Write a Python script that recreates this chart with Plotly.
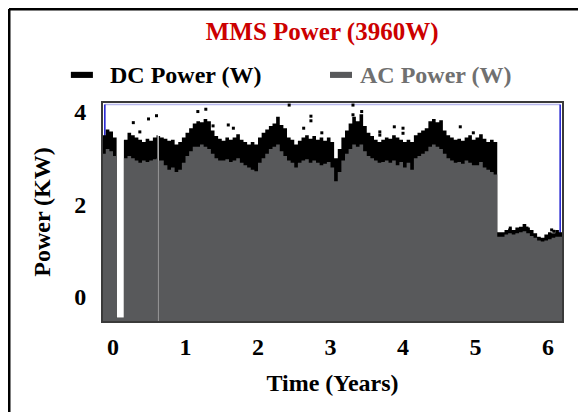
import plotly.graph_objects as go

# ---- data ----
TIME = [
    -0.15, -0.10, -0.05, 0.00, 0.05, 0.10, 0.15, 0.20, 0.25, 0.30,
    0.35, 0.40, 0.45, 0.50, 0.55, 0.60, 0.615, 0.63, 0.65, 0.70,
    0.75, 0.80, 0.85, 0.90, 0.95, 1.00, 1.05, 1.10, 1.15, 1.20,
    1.25, 1.30, 1.35, 1.40, 1.45, 1.50, 1.55, 1.60, 1.65, 1.70,
    1.75, 1.80, 1.85, 1.90, 1.95, 2.00, 2.05, 2.10, 2.15, 2.20,
    2.25, 2.30, 2.35, 2.40, 2.45, 2.50, 2.55, 2.60, 2.65, 2.70,
    2.75, 2.80, 2.85, 2.90, 2.95, 3.00, 3.05, 3.10, 3.15, 3.20,
    3.25, 3.30, 3.35, 3.40, 3.45, 3.50, 3.55, 3.60, 3.65, 3.70,
    3.75, 3.80, 3.85, 3.90, 3.95, 4.00, 4.05, 4.10, 4.15, 4.20,
    4.25, 4.30, 4.35, 4.40, 4.45, 4.50, 4.55, 4.60, 4.65, 4.70,
    4.75, 4.80, 4.85, 4.90, 4.95, 5.00, 5.05, 5.10, 5.15, 5.20,
    5.25, 5.30, 5.35, 5.40, 5.45, 5.50, 5.55, 5.60, 5.65, 5.70,
    5.75, 5.80, 5.85, 5.90, 5.95, 6.00, 6.05, 6.10, 6.15, 6.20,
]

DC_POWER = [
    3.50, 3.62, 3.58, 3.45, -0.45, -0.45, 3.40, 3.55, 3.50, 3.45,
    3.40, 3.35, 3.42, 3.38, 3.45, 3.50, -0.60, 3.48, 3.45, 3.42,
    3.38, 3.40, 3.30, 3.35, 3.45, 3.55, 3.65, 3.75, 3.80, 3.78,
    3.85, 3.80, 3.60, 3.48, 3.42, 3.38, 3.45, 3.40, 3.45, 3.52,
    3.40, 3.35, 3.30, 3.35, 3.30, 3.45, 3.55, 3.62, 3.70, 3.75,
    3.90, 3.72, 3.65, 3.45, 3.40, 3.30, 3.38, 3.45, 3.50, 3.42,
    3.48, 3.40, 3.45, 3.38, 3.45, 3.35, 3.00, 3.20, 3.45, 3.60,
    3.75, 3.90, 3.80, 3.95, 3.70, 3.55, 3.48, 3.40, 3.35, 3.40,
    3.45, 3.42, 3.50, 3.45, 3.40, 3.35, 3.40, 3.35, 3.50, 3.55,
    3.60, 3.65, 3.80, 3.85, 3.78, 3.82, 3.60, 3.50, 3.45, 3.40,
    3.42, 3.38, 3.45, 3.50, 3.40, 3.45, 3.52, 3.42, 3.35, 3.40,
    3.35, 1.40, 1.40, 1.45, 1.48, 1.45, 1.50, 1.52, 1.58, 1.50,
    1.45, 1.38, 1.30, 1.28, 1.35, 1.40, 1.38, 1.45, 1.40, 1.40,
]

AC_POWER = [
    3.10, 3.20, 3.15, 3.05, -0.45, -0.45, 3.00, 3.05, 3.00, 2.95,
    2.90, 2.95, 2.92, 2.95, 2.98, 3.00, -0.60, 2.95, 2.95, 2.85,
    2.75, 2.80, 2.70, 2.75, 2.90, 3.05, 3.15, 3.25, 3.25, 3.30,
    3.25, 3.20, 3.10, 3.00, 2.95, 2.95, 2.98, 2.92, 2.95, 3.00,
    2.90, 2.85, 2.80, 2.75, 2.72, 2.90, 3.00, 3.10, 3.20, 3.25,
    3.30, 3.15, 3.05, 2.95, 2.90, 2.80, 2.90, 2.95, 2.98, 2.90,
    2.95, 2.90, 2.85, 2.88, 2.92, 2.80, 2.50, 2.70, 2.95, 3.10,
    3.20, 3.30, 3.25, 3.30, 3.15, 3.05, 3.00, 2.95, 2.90, 2.92,
    2.95, 2.90, 2.95, 2.85, 2.92, 2.80, 2.90, 2.75, 3.00, 3.05,
    3.10, 3.15, 3.25, 3.30, 3.25, 3.20, 3.10, 3.00, 2.95, 2.90,
    2.92, 2.88, 2.95, 2.90, 2.85, 2.85, 2.92, 2.80, 2.75, 2.70,
    2.65, 1.30, 1.30, 1.35, 1.38, 1.35, 1.38, 1.40, 1.42, 1.38,
    1.32, 1.28, 1.22, 1.20, 1.22, 1.25, 1.28, 1.30, 1.30, 1.30,
]

# isolated DC readings above the main band
DC_DOT_TIME = [0.28, 0.37, 0.49, 0.60, 1.17, 1.28, 1.38, 1.59, 1.66, 2.43,
               2.63, 2.73, 2.73, 2.88, 3.31, 3.31, 3.43, 3.68, 3.68, 3.88,
               4.00, 4.00, 4.79, 4.97, 5.48, 5.71, 6.05, 6.08]
DC_DOT_POWER = [3.77, 3.57, 3.85, 3.92, 4.01, 4.06, 3.70, 3.72, 3.65, 4.15,
                3.65, 3.91, 3.81, 3.55, 4.15, 3.94, 4.01, 3.57, 3.50, 3.68,
                3.65, 3.54, 3.68, 3.55, 1.49, 1.49, 1.45, 1.42]

X_TICKS = [0, 1, 2, 3, 4, 5, 6]
X_TICK_TEXT = ["0", "1", "2", "3", "4", "5", "6"]
Y_TICKS = [0, 2, 4]
Y_TICK_TEXT = ["0", "2", "4"]

TITLE = "MMS Power (3960W)"
SERIES_NAMES = ["DC Power (W)", "AC Power (W)"]
X_TITLE = "Time (Years)"
Y_TITLE = "Power (KW)"

FLOOR = -0.6  # fill floor, below the visible axis range
DC_COLOR = "#000000"
AC_COLOR = "#58595b"
AC_TEXT_COLOR = "#707070"
FONT = "Liberation Serif"

fig = go.Figure()
floor = [FLOOR] * len(TIME)

fig.add_trace(go.Scatter(x=TIME, y=floor, mode="lines", line=dict(width=0, shape="hv"),
                         showlegend=False, hoverinfo="skip"))
fig.add_trace(go.Scatter(x=TIME, y=DC_POWER, name=SERIES_NAMES[0], mode="lines",
                         line=dict(width=0, shape="hv", color=DC_COLOR),
                         fill="tonexty", fillcolor=DC_COLOR, showlegend=False))
fig.add_trace(go.Scatter(x=TIME, y=floor, mode="lines", line=dict(width=0, shape="hv"),
                         showlegend=False, hoverinfo="skip"))
fig.add_trace(go.Scatter(x=TIME, y=AC_POWER, name=SERIES_NAMES[1], mode="lines",
                         line=dict(width=0, shape="hv", color=AC_COLOR),
                         fill="tonexty", fillcolor=AC_COLOR, showlegend=False))
fig.add_trace(go.Scatter(x=DC_DOT_TIME, y=DC_DOT_POWER, name=SERIES_NAMES[0], mode="markers",
                         marker=dict(symbol="square", size=3, color=DC_COLOR),
                         showlegend=False))

axis_font = dict(family=FONT, size=24, color="black", weight="bold")

fig.update_xaxes(range=[-0.138, 6.193], tickvals=X_TICKS, ticktext=X_TICK_TEXT,
                 showgrid=False, zeroline=False, showline=True, mirror=True,
                 linecolor="#3a3a3a", linewidth=2, ticks="", tickfont=axis_font,
                 ticklabelstandoff=3,
                 title=dict(text=X_TITLE, font=axis_font, standoff=15))
fig.update_yaxes(range=[-0.52, 4.195], tickvals=Y_TICKS, ticktext=Y_TICK_TEXT,
                 showgrid=False, zeroline=False, showline=True, mirror=True,
                 linecolor="#3a3a3a", linewidth=2, ticks="", tickfont=axis_font,
                 ticklabelstandoff=10,
                 title=dict(text=Y_TITLE, font=axis_font, standoff=17))

shapes = [
    # thin blue inner edges of the plot frame (visible where no data)
    dict(type="line", xref="x domain", yref="y domain", x0=0.004, x1=0.996, y0=0.993, y1=0.993,
         line=dict(color="#b8b8ee", width=1.5), layer="below"),
    dict(type="line", xref="x domain", yref="y domain", x0=0.996, x1=0.996, y0=0.0, y1=0.993,
         line=dict(color="#1a1ad0", width=1.5), layer="below"),
    dict(type="line", xref="x domain", yref="y domain", x0=0.004, x1=0.004, y0=0.0, y1=0.993,
         line=dict(color="#1a1ad0", width=1.5), layer="below"),
    # outer figure frame (left and top)
    dict(type="line", xref="paper", yref="paper", x0=-0.2048, x1=-0.2048, y0=-0.5, y1=1.431,
         line=dict(color="black", width=3)),
    dict(type="line", xref="paper", yref="paper", x0=-0.2048, x1=1.1, y0=1.431, y1=1.431,
         line=dict(color="black", width=3)),
    # legend swatches
    dict(type="rect", xref="paper", yref="paper", x0=-0.070, x1=-0.022, y0=1.115, y1=1.143,
         line=dict(width=0), fillcolor=DC_COLOR),
    dict(type="rect", xref="paper", yref="paper", x0=0.4946, x1=0.5425, y0=1.115, y1=1.143,
         line=dict(width=0), fillcolor=AC_COLOR),
]

annotations = [
    dict(text=SERIES_NAMES[0], xref="paper", yref="paper", x=0.011, y=1.129,
         xanchor="left", yanchor="middle", showarrow=False,
         font=dict(family=FONT, size=24, color=DC_COLOR, weight="bold")),
    dict(text=SERIES_NAMES[1], xref="paper", yref="paper", x=0.5556, y=1.129,
         xanchor="left", yanchor="middle", showarrow=False,
         font=dict(family=FONT, size=24, color=AC_TEXT_COLOR, weight="bold")),
]

fig.update_layout(
    width=586, height=412,
    margin=dict(l=95, r=32, t=95, b=99),
    plot_bgcolor="white", paper_bgcolor="white",
    showlegend=False,
    title=dict(text=TITLE, x=0.536, xanchor="center", xref="container",
               y=0.944, yanchor="middle", yref="container",
               font=dict(family=FONT, size=25, color="#cc0000", weight="bold")),
    shapes=shapes,
    annotations=annotations,
)

fig.write_html("out.html")
